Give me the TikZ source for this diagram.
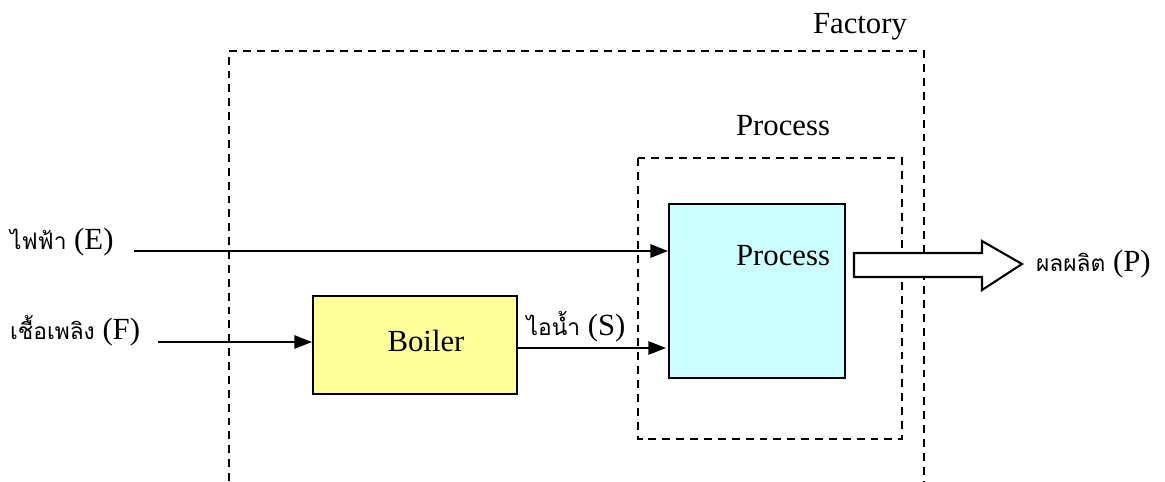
\documentclass[tikz,border=0pt]{standalone}
\usepackage{fontspec}
\setmainfont{Liberation Serif}
\newfontfamily\thaifont[Script=Thai,Scale=0.74]{Loma}
\usetikzlibrary{arrows.meta}
\definecolor{boilerfill}{HTML}{FFFF99}
\definecolor{procfill}{HTML}{CCFFFF}
\tikzset{
  frame/.style={line width=1.2pt, dash pattern=on 4.5pt off 3.4pt},
  unit/.style={draw, line width=1.2pt, inner sep=0pt},
  flow/.style={line width=1.2pt, -{Triangle[length=10pt,width=7.5pt]}},
  lbl/.style={font=\fontsize{17.5}{20}\selectfont, inner sep=1pt},
}
\begin{document}
\begin{tikzpicture}[x=0.02cm, y=-0.02cm]
  \useasboundingbox (0,0) rectangle (1165,481);

  % factory boundary, open at the bottom
  \draw[frame] (229,481) -- (229,51) -- (924,51) -- (924,481);
  \node[lbl] (factory) at (860,27) {Factory};

  % process boundary
  \draw[frame] (638,158) rectangle (902,439);
  \node[lbl] (proclbl) at (783,126) {Process};

  \node[unit, fill=boilerfill, anchor=north west,
        minimum width=4.08cm, minimum height=1.96cm] (boiler) at (312,295) {};
  \node[lbl] at (426,341) {Boiler};
  \node[unit, fill=procfill, anchor=north west,
        minimum width=3.52cm, minimum height=3.48cm] (proc) at (668,203) {};
  \node[lbl] at (783,256) {Process};

  % inputs
  \node[lbl, anchor=west] (elec) at (8,242) {{\thaifont ไฟฟ้า} (E)};
  \node[lbl, anchor=west] (fuel) at (8,331) {{\thaifont เชื้อเพลิง} (F)};
  \node[lbl] (steam) at (576,327) {{\thaifont ไอน้ำ} (S)};
  \coordinate (e0) at (134,251);
  \coordinate (f0) at (158,342);
  \draw[flow] (e0) -- (e0 -| proc.west);
  \draw[flow] (f0) -- (f0 -| boiler.west);
  \draw[flow] (518,348) -- (666,348);

  % product
  \draw[line width=1.2pt, fill=white] (854,253) -- (982,253) -- (982,241) -- (1022,264)
    -- (982,290) -- (982,277) -- (854,277) -- cycle;
  \node[lbl, anchor=west] (prod) at (1034,264) {{\thaifont ผลผลิต} (P)};
\end{tikzpicture}
\end{document}
